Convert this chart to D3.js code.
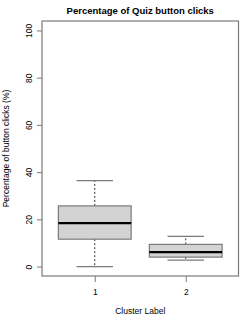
<!DOCTYPE html>
<html>
<head>
<meta charset="utf-8">
<script src="https://cdn.jsdelivr.net/npm/d3@7"></script>
<style>
  body { margin: 0; background: #fff; }
  text { font-family: "Liberation Sans", Arial, sans-serif; fill: #000; }
</style>
</head>
<body>
<svg id="canvas" width="249" height="318"></svg>
<script>
// values
let clusters = ['1', '2']
let lowerWhisker = [0, 2.7]
let q1 = [11.6, 4.0]
let median = [18.4, 6.1]
let q3 = [25.7, 9.4]
let upperWhisker = [36.4, 12.8]
let yTicks = [0, 20, 40, 60, 80, 100]

let plotLeft = 42, plotRight = 238.5, plotTop = 21, plotBottom = 276

let svg = d3.select('#canvas')
let gray = '#7a7a7a'

let x = d3.scaleLinear().domain([0.42, 2.58]).range([plotLeft, plotRight])
let y = d3.scaleLinear().domain([-4, 104]).range([plotBottom, plotTop])

let boxW = x(0.8) - x(0)

// title
svg.append('text')
    .attr('x', (plotLeft + plotRight) / 2)
    .attr('y', 14)
    .attr('text-anchor', 'middle')
    .style('font-weight', 'bold')
    .style('font-size', '9.5px')
    .text('Percentage of Quiz button clicks')

// boxes
let data = clusters.map((c, i) => ({
    c: c, pos: i + 1, lo: lowerWhisker[i], q1: q1[i], med: median[i], q3: q3[i], hi: upperWhisker[i]
}))

let g = svg.selectAll('g.box').data(data).enter().append('g').attr('class', 'box')

// dashed whiskers
g.append('line')
    .attr('x1', d => x(d.pos)).attr('x2', d => x(d.pos))
    .attr('y1', d => y(d.q3)).attr('y2', d => y(d.hi))
    .attr('stroke', '#333').attr('stroke-dasharray', '2,2')
g.append('line')
    .attr('x1', d => x(d.pos)).attr('x2', d => x(d.pos))
    .attr('y1', d => y(d.q1)).attr('y2', d => y(d.lo))
    .attr('stroke', '#333').attr('stroke-dasharray', '2,2')

// caps
g.selectAll('line.cap').data(d => [[d.pos, d.hi], [d.pos, d.lo]]).enter().append('line')
    .attr('class', 'cap')
    .attr('x1', d => x(d[0]) - boxW / 4).attr('x2', d => x(d[0]) + boxW / 4)
    .attr('y1', d => y(d[1])).attr('y2', d => y(d[1]))
    .attr('stroke', gray).attr('stroke-width', 1.2)

g.append('rect')
    .attr('x', d => x(d.pos) - boxW / 2)
    .attr('y', d => y(d.q3))
    .attr('width', boxW)
    .attr('height', d => y(d.q1) - y(d.q3))
    .attr('fill', '#d3d3d3')
    .attr('stroke', gray).attr('stroke-width', 1.2)

g.append('line')
    .attr('x1', d => x(d.pos) - boxW / 2).attr('x2', d => x(d.pos) + boxW / 2)
    .attr('y1', d => y(d.med)).attr('y2', d => y(d.med))
    .attr('stroke', '#000').attr('stroke-width', 2.2)

// frame
svg.append('rect')
    .attr('x', plotLeft).attr('y', plotTop)
    .attr('width', plotRight - plotLeft).attr('height', plotBottom - plotTop)
    .attr('fill', 'none').attr('stroke', gray).attr('stroke-width', 1.2)

// y axis
let yAxis = svg.append('g')
    .attr('transform', `translate(${plotLeft},0)`)
    .call(d3.axisLeft(y).tickValues(yTicks).tickSize(5).tickFormat(d3.format('d')))
yAxis.select('.domain').remove()
yAxis.selectAll('.tick line').attr('stroke', gray)
yAxis.selectAll('.tick text')
    .attr('x', null).attr('dy', null)
    .attr('text-anchor', 'middle')
    .attr('transform', 'translate(-10,0) rotate(-90)')
    .style('font-size', '8.5px')
    .style('font-family', '"Liberation Sans", Arial, sans-serif')

// x axis
let xAxis = svg.append('g')
    .attr('transform', `translate(0,${plotBottom})`)
    .call(d3.axisBottom(x).tickValues([1, 2]).tickSize(6).tickFormat((d, i) => clusters[i]))
xAxis.select('.domain').remove()
xAxis.selectAll('.tick line').attr('stroke', gray)
xAxis.selectAll('.tick text')
    .attr('y', 13)
    .style('font-size', '8.5px')
    .style('font-family', '"Liberation Sans", Arial, sans-serif')

// axis labels
svg.append('text')
    .attr('x', (plotLeft + plotRight) / 2)
    .attr('y', 314)
    .attr('text-anchor', 'middle')
    .style('font-size', '8.5px')
    .text('Cluster Label')

svg.append('text')
    .attr('transform', `translate(9,${(plotTop + plotBottom) / 2}) rotate(-90)`)
    .attr('text-anchor', 'middle')
    .style('font-size', '8.5px')
    .text('Percentage of button clicks (%)')
</script>
</body>
</html>
